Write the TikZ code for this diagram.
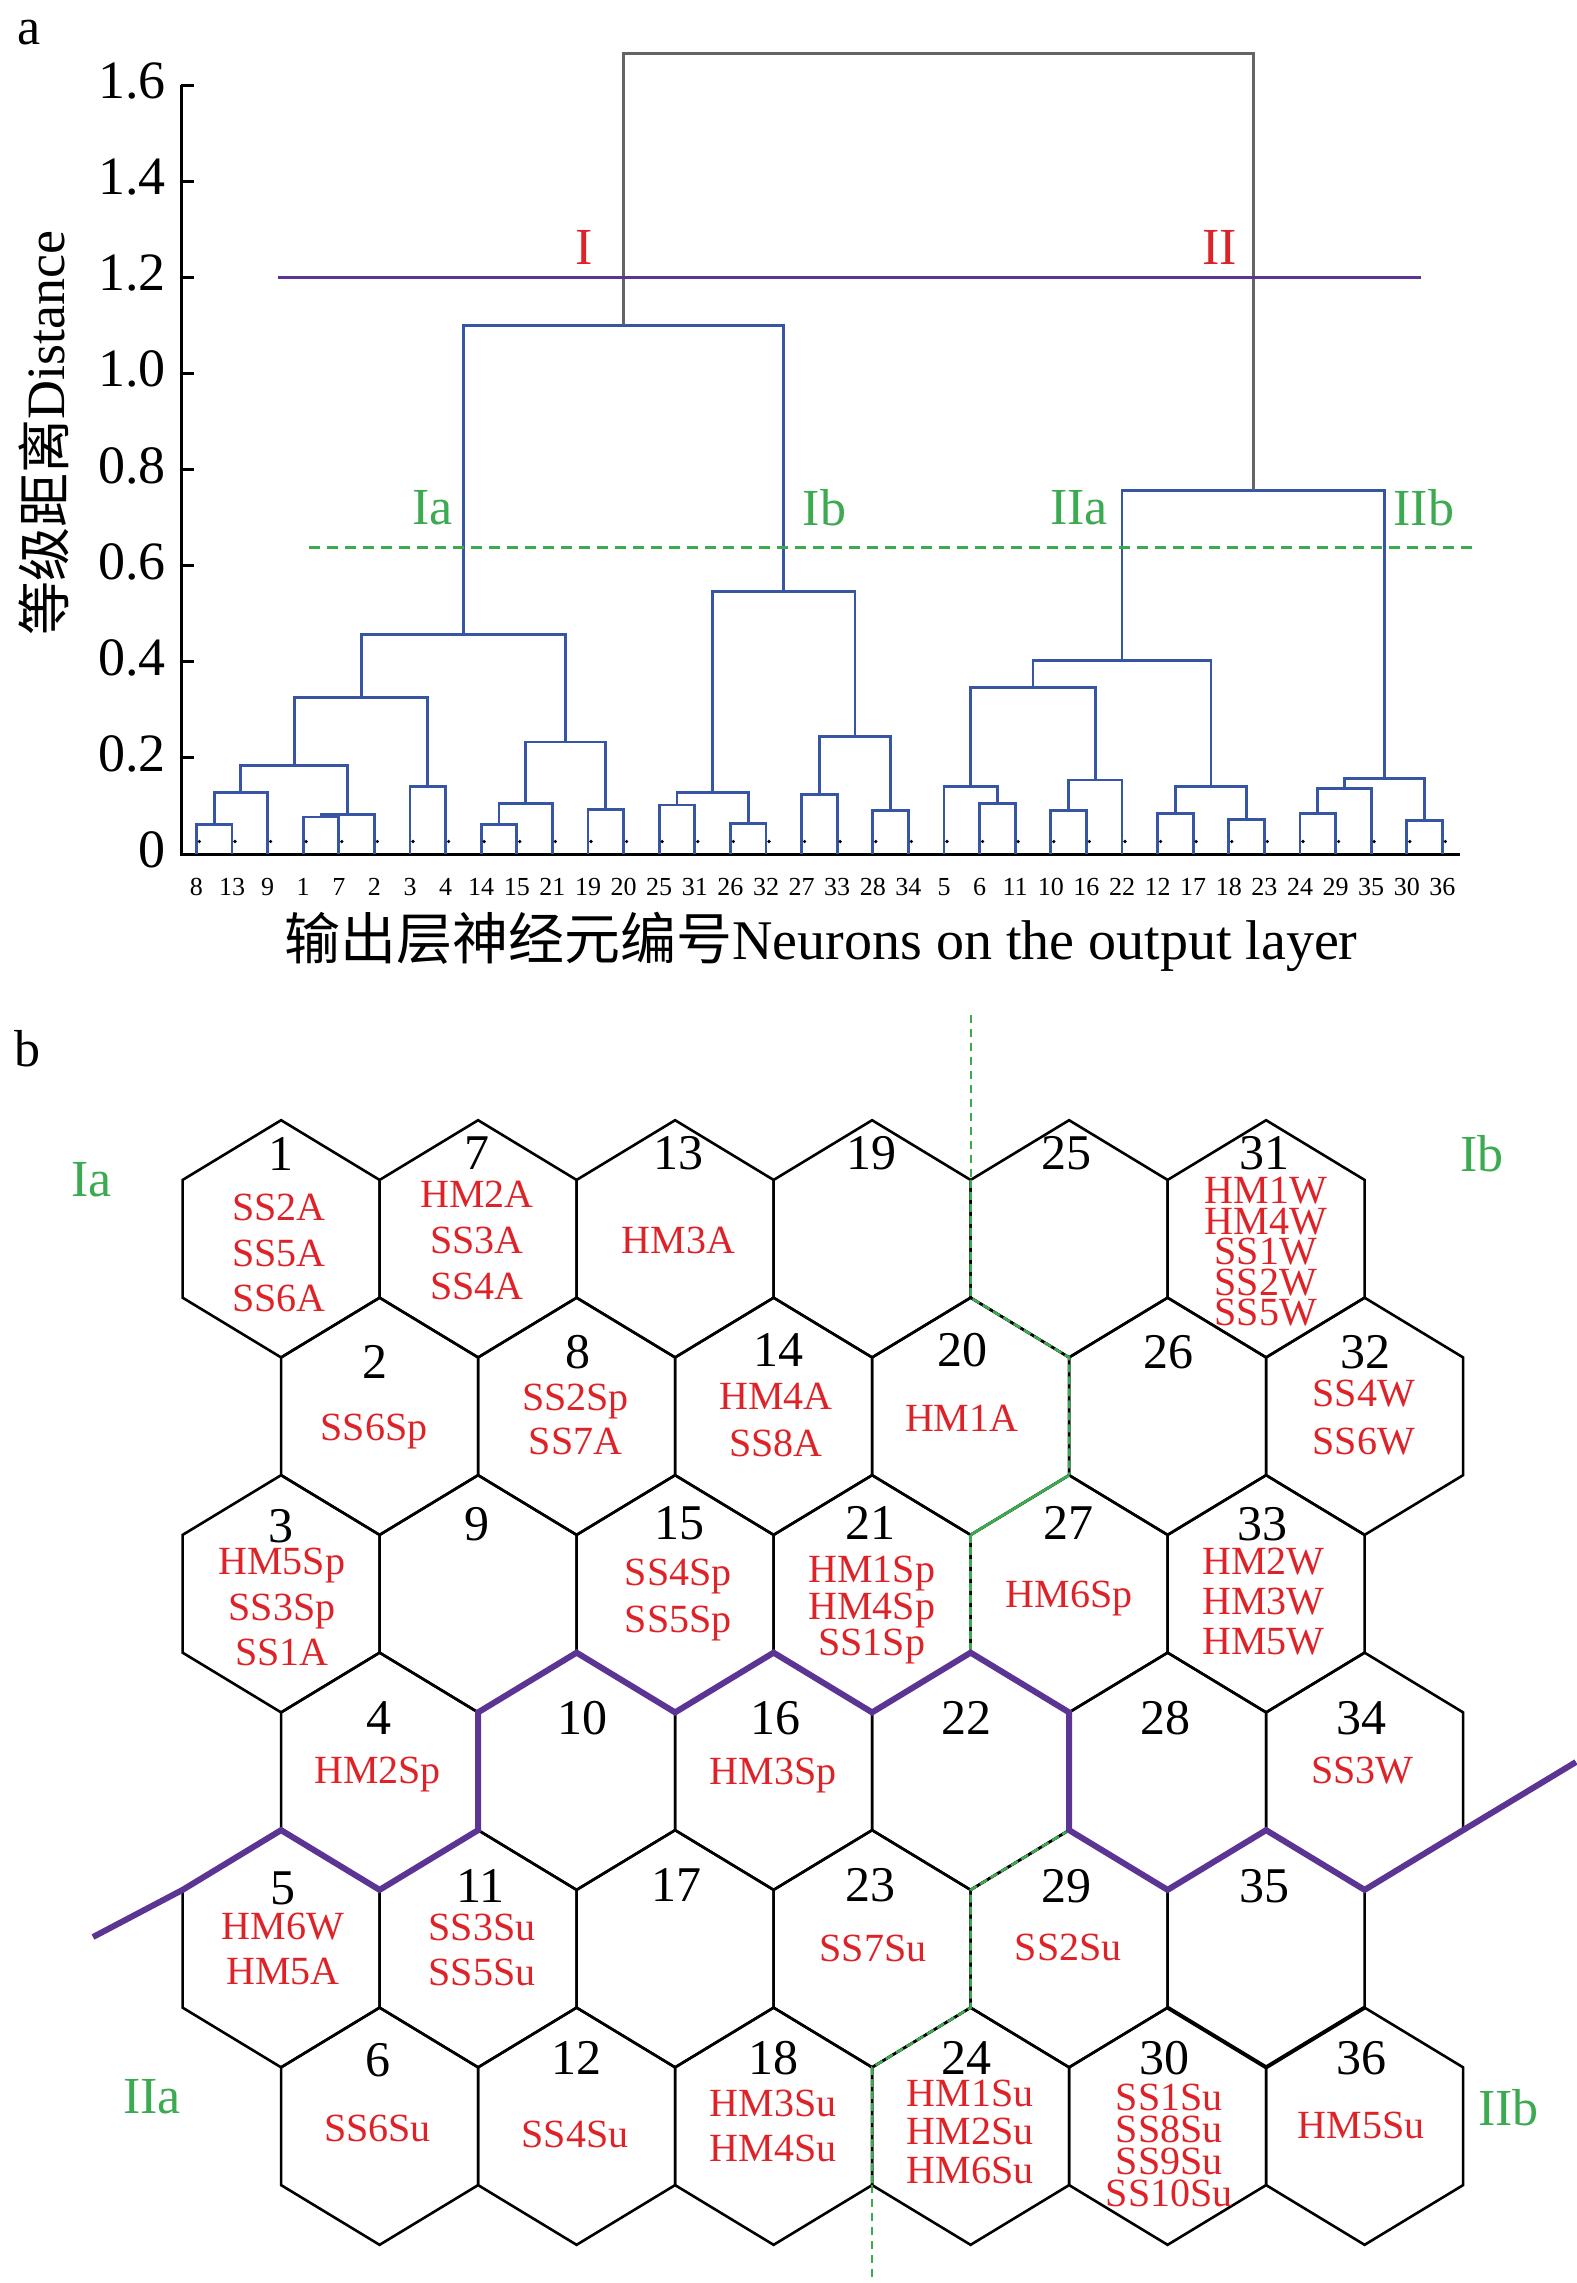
\documentclass[tikz,border=0pt]{standalone}
\usepackage{fontspec}
\setmainfont{Liberation Serif}
\newfontfamily\cjkfont{Noto Sans CJK SC}
\usepackage{tikz}
\definecolor{treeblue}{RGB}{55,85,165}
\definecolor{topgray}{RGB}{100,100,100}
\definecolor{cutpurple}{RGB}{92,53,148}
\definecolor{clgreen}{RGB}{60,170,80}
\definecolor{labred}{RGB}{222,35,40}
\lineskiplimit=-30pt

\begin{document}
\begin{tikzpicture}[x=0.5pt,y=-0.5pt,
  tree/.style={treeblue,line width=1.45pt},
  topbranch/.style={topgray,line width=1.45pt},
  axis/.style={black,line width=1.5pt},
  hex/.style={black,line width=1.3pt},
  cut/.style={cutpurple,line width=3pt},
  bound/.style={clgreen,line width=1.3pt,dash pattern=on 4pt off 2pt},
  txt/.style={inner sep=0pt},
  tick/.style={txt,anchor=east,font=\fontsize{27}{30}\selectfont},
  leaf/.style={txt,font=\fontsize{13}{15}\selectfont},
  num/.style={txt,font=\fontsize{25}{28}\selectfont},
  cutlab/.style={txt,labred,font=\fontsize{26}{28}\selectfont},
  clab/.style={txt,clgreen,font=\fontsize{26}{28}\selectfont}]
\useasboundingbox (0,0) rectangle (1576,2283);

% a: dendrogram
\node[txt,font=\fontsize{26}{28}\selectfont] (panela) at (29,33) {a};
\draw[axis] (181,85) -- (181,854) -- (1460,854);
\foreach \t [count=\k] in {0,0.2,0.4,0.6,0.8,1.0,1.2,1.4,1.6} {
  \draw[axis] (181,{854-480.6*\t}) -- (194,{854-480.6*\t});
  \node[tick] (ytick\k) at (166,{850-480.6*\t}) {\t};
}
\node[txt,rotate=90,font=\fontsize{27}{30}\selectfont] (ytitle) at (44,433)
  {{\cjkfont 等级距离}Distance};
\node[txt,font=\fontsize{28}{30}\selectfont] (xtitle) at (821,942)
  {{\cjkfont 输出层神经元编号}Neurons on the output layer};
\foreach \n [count=\i from 0] in {8,13,9,1,7,2,3,4,14,15,21,19,20,25,31,26,32,27,33,28,34,5,6,11,10,16,22,12,17,18,23,24,29,35,30,36}
  \node[leaf] (lf\n) at ({196.4+35.6*\i},887) {\n};

\begin{scope}[shift={(196.4,854)},x=17.8pt,y=240.3pt]
\foreach \xl/\hl/\xr/\hr/\h in {
  0/0/1/0/0.061, 0.5/0.061/2/0/0.128, 3/0/4/0/0.077, 3.5/0.077/5/0/0.082,
  1.25/0.128/4.25/0.082/0.184, 6/0/7/0/0.140, 2.75/0.184/6.5/0.140/0.325,
  8/0/9/0/0.061, 8.5/0.061/10/0/0.106, 11/0/12/0/0.093,
  9.25/0.106/11.5/0.093/0.233, 4.625/0.325/10.375/0.233/0.457,
  13/0/14/0/0.102, 15/0/16/0/0.064, 13.5/0.102/15.5/0.064/0.128,
  17/0/18/0/0.124, 19/0/20/0/0.090, 17.5/0.124/19.5/0.090/0.244,
  14.5/0.128/18.5/0.244/0.546, 7.5/0.457/16.5/0.546/1.10,
  22/0/23/0/0.106, 21/0/22.5/0.106/0.140, 24/0/25/0/0.090,
  24.5/0.090/26/0/0.154, 21.75/0.140/25.25/0.154/0.346,
  27/0/28/0/0.085, 29/0/30/0/0.072, 27.5/0.085/29.5/0.072/0.140,
  23.5/0.346/28.5/0.140/0.402,
  31/0/32/0/0.085, 31.5/0.085/33/0/0.137, 34/0/35/0/0.069,
  32.25/0.137/34.5/0.069/0.157, 26/0.402/33.375/0.157/0.757}
  \draw[tree] (\xl,\hl) |- (\xr,\h) -- (\xr,\hr);
\draw[topbranch] (12,1.10) |- (29.6875,1.665) -- (29.6875,0.757);
\foreach \i in {0,...,35}
  \fill ([xshift=1.5pt]\i,0.026) circle (0.9pt);
\end{scope}

% cut lines
\draw[cutpurple,line width=1.7pt] (278,277.3) -- (1421,277.3);
\draw[clgreen,line width=1.5pt,dash pattern=on 5.5pt off 3.5pt] (309,547.2) -- (1478,547.2);
\node[cutlab] (cutI) at (583.7,247.7) {I};
\node[cutlab] (cutII) at (1219.6,247.7) {II};
\node[clab] (clIa) at (432.7,507.7) {Ia};
\node[clab] (clIb) at (824.4,507.7) {Ib};
\node[clab] (clIIa) at (1079,507.7) {IIa};
\node[clab] (clIIb) at (1423.7,507.7) {IIb};

% b: hexagonal output layer
\node[txt,font=\fontsize{26}{28}\selectfont] (panelb) at (28,1049) {b};
\foreach \c in {0,...,5}
  \foreach \r in {0,...,5} {
    \pgfmathsetmacro\cx{281.1+197*\c+98.5*mod(\r,2)}
    \pgfmathsetmacro\cy{1238.8+177.48*\r}
    \draw[hex] (\cx,{\cy-118.6}) -- ++(98.5,59.72) -- ++(0,117.76) -- ++(-98.5,59.72)
      -- ++(-98.5,-59.72) -- ++(0,-117.76) -- cycle;
  }
\draw[hex,line width=2pt] (1167.6,2007.6) -- (1266.1,2067.32) -- (1364.6,2007.6);

\foreach \n/\x/\y in {1/280.6/1154, 2/375/1361.5, 3/280.6/1526.5, 4/378.6/1718,
  5/283/1888, 6/377.6/2060.3, 7/477/1153.4, 8/578/1352.4, 9/477/1524.5,
  10/582.7/1718, 11/480.6/1886, 12/576.5/2058.2, 13/678.6/1153.4, 14/778.3/1350,
  15/679/1523.3, 16/775/1718.3, 17/676.7/1885, 18/773.3/2058.3, 19/871.4/1153.4,
  20/962.7/1350, 21/870.7/1523.3, 22/966.7/1718.3, 23/870.7/1885, 24/966.7/2058.3,
  25/1066.8/1153.4, 26/1168.3/1352.4, 27/1068.3/1523.3, 28/1165.8/1718,
  29/1066.8/1886, 30/1164.8/2058.2, 31/1264.8/1153.4, 32/1365.3/1352.4,
  33/1262.2/1524.5, 34/1361.2/1718, 35/1264.8/1886, 36/1361.2/2058.2}
  \node[num] (n\n) at (\x,\y) {\n};

\foreach \n/\x/\y/\s/\t in {
  1/279/1253/22.8/{SS2A\\SS5A\\SS6A}, 2/374/1431/22/{SS6Sp},
  3/281.9/1607/22.9/{HM5Sp\\SS3Sp\\SS1A}, 4/377.6/1774.5/22/{HM2Sp},
  5/283/1949/22.9/{HM6W\\HM5A}, 6/377.6/2128/22/{SS6Su},
  7/477/1240.5/22.8/{HM2A\\SS3A\\SS4A}, 8/575.5/1419.4/22.2/{SS2Sp\\SS7A},
  11/482/1949.5/22.5/{SS3Su\\SS5Su}, 12/575/2134/22/{SS4Su},
  13/678.6/1240.5/22/{HM3A}, 14/775.8/1420/23.3/{HM4A\\SS8A},
  15/678.3/1600/23.3/{SS4Sp\\SS5Sp}, 16/773.3/1775/22/{HM3Sp},
  18/773.3/2125.8/22.5/{HM3Su\\HM4Su}, 20/961.7/1418.3/22/{HM1A},
  21/871.7/1610/18.3/{HM1Sp\\HM4Sp\\SS1Sp}, 23/872.9/1948.3/22/{SS7Su},
  24/970/2131.7/19.2/{HM1Su\\HM2Su\\HM6Su}, 27/1069.3/1598/22/{HM6Sp},
  29/1068.3/1947.5/22/{SS2Su},
  30/1169.3/2145.4/16.05/{SS1Su\\SS8Su\\SS9Su\\SS10Su},
  31/1265.8/1251.8/15.3/{HM1W\\HM4W\\SS1W\\SS2W\\SS5W},
  32/1363.8/1417.7/23.8/{SS4W\\SS6W},
  33/1263.3/1601.7/20/{HM2W\\HM3W\\HM5W}, 34/1362.2/1770.4/22/{SS3W},
  36/1361.2/2125.9/22/{HM5Su}}
  \node[txt,labred,align=center,font=\fontsize{20}{\s}\selectfont] (lab\n) at (\x,\y) {\t};

% cluster boundaries
\draw[clgreen,line width=1pt,dash pattern=on 4pt off 3pt] (970.6,1014.5) -- (970.6,1179.92);
\draw[bound] (970.6,1179.92) -- (970.6,1297.68) -- (1069.1,1357.4) -- (1069.1,1475.16);
\draw[clgreen,line width=1.4pt] (1069.1,1475.16) -- (970.6,1534.88);
\draw[bound] (970.6,1534.88) -- (970.6,1652.64);
\draw[bound] (1069.1,1830.12) -- (970.6,1889.84) -- (970.6,2007.6) -- (872.1,2067.32) -- (872.1,2185.08);
\draw[clgreen,line width=1pt,dash pattern=on 4pt off 3pt] (872.1,2185.08) -- (872.1,2283);
\draw[cut] (93,1937) -- (182.6,1889.84) -- (281.1,1830.12) -- (379.6,1889.84)
  -- (478.1,1830.12) -- (478.1,1712.36) -- (576.6,1652.64) -- (675.1,1712.36)
  -- (773.6,1652.64) -- (872.1,1712.36) -- (970.6,1652.64) -- (1069.1,1712.36)
  -- (1069.1,1830.12) -- (1167.6,1889.84) -- (1266.1,1830.12) -- (1364.6,1889.84)
  -- (1463.1,1830.12) -- (1576,1762);

\node[clab] (regIa) at (91.8,1180) {Ia};
\node[clab] (regIb) at (1481.8,1153.5) {Ib};
\node[clab] (regIIa) at (152,2097) {IIa};
\node[clab] (regIIb) at (1508.5,2107.5) {IIb};
\end{tikzpicture}
\end{document}
